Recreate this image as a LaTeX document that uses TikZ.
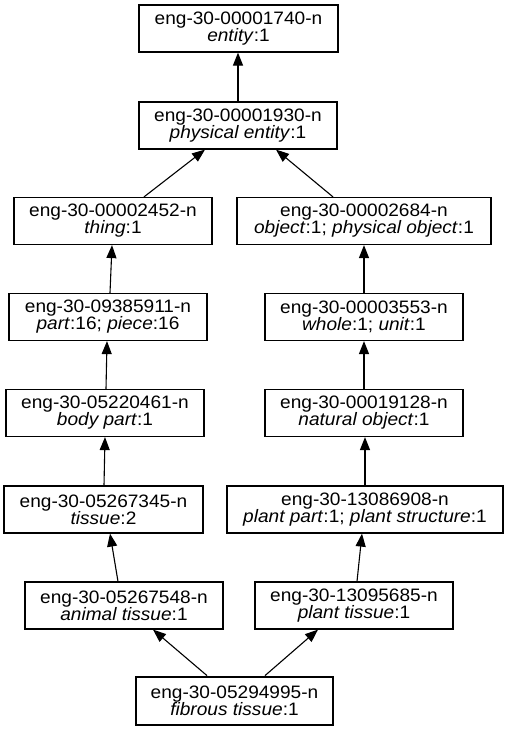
\documentclass[tikz,border=0pt]{standalone}
\usepackage{fontspec}
\setmainfont{Liberation Sans}[FakeStretch=1.06]
\usetikzlibrary{arrows.meta}
\begin{document}
\begin{tikzpicture}[x=1pt,y=-1pt,
  syn/.style={draw, line width=1.2pt, rectangle, align=center, inner sep=0pt,
    minimum height=47pt, font=\fontsize{18}{17}\selectfont},
  focus/.style={syn, line width=2.8pt, minimum height=48pt},
  hyp/.style={line width=1.1pt, -{Triangle[length=13pt,width=10pt]}}]
\useasboundingbox (0,0) rectangle (509,731);
\node[syn, minimum width=199pt] (n1740) at (238.5,28.5) {eng-30-00001740-n\\\textit{entity}:1};
\node[syn, minimum width=198pt] (n1930) at (238,125.5) {eng-30-00001930-n\\\textit{physical entity}:1};
\node[syn, minimum width=198pt] (n2452) at (113,221) {eng-30-00002452-n\\\textit{thing}:1};
\node[syn, minimum width=254pt] (n2684) at (364,221) {eng-30-00002684-n\\\textit{object}:1; \textit{physical object}:1};
\node[syn, minimum width=198pt] (n9385911) at (108,317) {eng-30-09385911-n\\\textit{part}:16; \textit{piece}:16};
\node[syn, minimum width=198pt] (n3553) at (364,317) {eng-30-00003553-n\\\textit{whole}:1; \textit{unit}:1};
\node[syn, minimum width=198pt] (n5220461) at (105,413) {eng-30-05220461-n\\\textit{body part}:1};
\node[syn, minimum width=198pt] (n19128) at (364,413) {eng-30-00019128-n\\\textit{natural object}:1};
\node[syn, minimum width=199pt] (n5267345) at (103.5,509.5) {eng-30-05267345-n\\\textit{tissue}:2};
\node[syn, minimum width=276pt] (n13086908) at (365,509.5) {eng-30-13086908-n\\\textit{plant part}:1; \textit{plant structure}:1};
\node[syn, minimum width=198pt] (n5267548) at (124,605.5) {eng-30-05267548-n\\\textit{animal tissue}:1};
\node[syn, minimum width=198pt] (n13095685) at (354,605.5) {eng-30-13095685-n\\\textit{plant tissue}:1};
\node[focus, minimum width=197pt] (n5294995) at (234.5,701) {eng-30-05294995-n\\\textit{fibrous tissue}:1};

\draw[hyp] (n1930.north) -- (n1930.north |- n1740.south);
\draw[hyp] ([xshift=31pt]n2452.north) -- ([xshift=-33pt]n1930.south);
\draw[hyp] ([xshift=-31pt]n2684.north) -- ([xshift=38pt]n1930.south);
\draw[hyp] ([xshift=2pt]n9385911.north) -- ([xshift=-1pt]n2452.south);
\draw[hyp] ([xshift=1pt]n5220461.north) -- ([xshift=-1pt]n9385911.south);
\draw[hyp] ([xshift=0.5pt]n5267345.north) -- (n5220461.south);
\draw[hyp] ([xshift=-6pt]n5267548.north) -- ([xshift=6.5pt]n5267345.south);
\draw[hyp] (n3553.north) -- (n2684.south);
\draw[hyp] (n19128.north) -- (n3553.south);
\draw[hyp] (n13086908.north) -- ([xshift=1pt]n19128.south);
\draw[hyp] ([xshift=3pt]n13095685.north) -- ([xshift=-3pt]n13086908.south);
\draw[hyp] ([xshift=-27.5pt]n5294995.north) -- ([xshift=29pt]n5267548.south);
\draw[hyp] ([xshift=30.5pt]n5294995.north) -- ([xshift=-36pt]n13095685.south);
\end{tikzpicture}
\end{document}
